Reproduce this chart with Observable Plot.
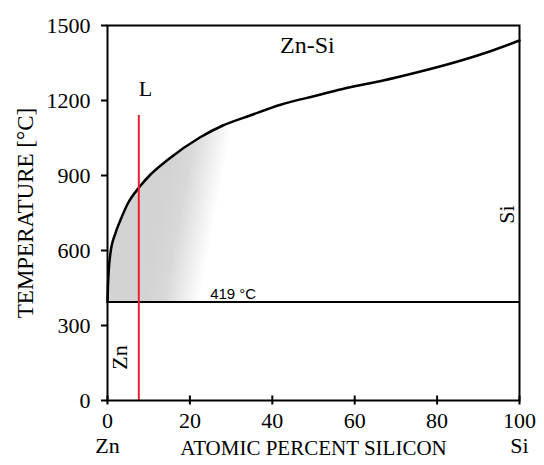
<!DOCTYPE html>
<html>
<head>
<meta charset="utf-8">
<script src="https://cdn.jsdelivr.net/npm/d3@7"></script>
<script src="https://cdn.jsdelivr.net/npm/@observablehq/plot@0.6"></script>
<style>
  html, body { margin: 0; padding: 0; background: #fff; }
</style>
</head>
<body>
<div id="chart"></div>
<script>
// Liquidus curve (atomic % Si, temperature °C)
const liqX = [0, 0.1, 0.3, 0.7, 1.9, 3.1, 5, 7.6, 10.5, 14.4, 22.5, 28, 34.6, 42, 50.8, 58, 66.9, 75, 83.1, 91.1, 100];
const liqT = [394, 450, 520, 588, 668, 720, 790, 851, 905, 960, 1053, 1100, 1140, 1183, 1220, 1250, 1280, 1312, 1347, 1387, 1440];
const eutecticT = 394;       // drawn line labelled 419 °C
const eutecticLabel = "419 °C";
const redX = 7.6;            // vertical red composition line
const redTop = 1140;
const xTicks = [0, 20, 40, 60, 80, 100];
const yTicks = [0, 300, 600, 900, 1200, 1500];

const liquidus = liqX.map((x, i) => ({x, T: liqT[i]}));

const serif = "Liberation Serif";

const plot = Plot.plot({
  width: 544,
  height: 465,
  marginLeft: 107,
  marginRight: 25,
  marginTop: 25,
  marginBottom: 65,
  style: {fontFamily: serif, fontSize: "22px", color: "black", background: "white"},
  x: {domain: [0, 100]},
  y: {domain: [0, 1500]},
  marks: [
    Plot.areaY(liquidus, {x: "x", y1: eutecticT, y2: "T", curve: "monotone-x", fill: "url(#shade)"}),
    Plot.ruleY([eutecticT], {x1: 0, x2: 100, stroke: "black", strokeWidth: 2}),
    Plot.line(liquidus, {x: "x", y: "T", curve: "monotone-x", stroke: "black", strokeWidth: 2.5}),
    Plot.ruleX([redX], {y1: 0, y2: redTop, stroke: "#e8232b", strokeWidth: 2}),
    Plot.frame({stroke: "black", strokeWidth: 2}),
    Plot.axisY({ticks: yTicks, tickFormat: d => String(d), tickSize: 6, tickPadding: 11, fontSize: 22, fontFamily: serif, label: null, strokeWidth: 2}),
    Plot.axisX({ticks: xTicks, tickFormat: d => String(d), tickSize: 0, tickPadding: 12, fontSize: 22, fontFamily: serif, label: null}),
    Plot.ruleX(xTicks, {x: d => d, y1: -18, y2: 18, stroke: "black", strokeWidth: 2, clip: false}),
    Plot.text(["TEMPERATURE [°C]"], {frameAnchor: "left", textAnchor: "middle", dx: -82, rotate: -90, fontSize: 23, fontFamily: serif}),
    Plot.text(["ATOMIC PERCENT SILICON"], {frameAnchor: "bottom", dy: 54, fontSize: 21, fontFamily: serif}),
    Plot.text(["Zn", "Si"], {x: [0, 100], frameAnchor: "bottom", dy: 52, fontSize: 22, fontFamily: serif}),
    Plot.text(["Zn-Si"], {x: [48.5], y: [1392], lineAnchor: "bottom", fontSize: 24, fontFamily: serif}),
    Plot.text(["L"], {x: [9.2], y: [1220], lineAnchor: "bottom", fontSize: 22, fontFamily: serif}),
    Plot.text(["Si"], {x: [96.9], y: [744], rotate: -90, fontSize: 22, fontFamily: serif}),
    Plot.text(["Zn"], {x: [3.1], y: [172], rotate: -90, fontSize: 22, fontFamily: serif}),
    Plot.text([eutecticLabel], {x: [30.5], y: [eutecticT], dy: -3, lineAnchor: "bottom", fontSize: 15, fontFamily: "Liberation Sans"})
  ]
});

// gradient shading under the liquidus
const X = plot.scale("x"), Y = plot.scale("y");
const gx0 = X.apply(9), gy0 = Y.apply(eutecticT);
const svg = d3.select(plot);
const defs = svg.insert("defs", ":first-child");
const g = defs.append("linearGradient")
  .attr("id", "shade")
  .attr("gradientUnits", "userSpaceOnUse")
  .attr("x1", gx0).attr("y1", gy0)
  .attr("x2", gx0 + 54).attr("y2", gy0 + 10);
g.append("stop").attr("offset", 0).attr("stop-color", "#d3d3d3");
g.append("stop").attr("offset", 0.35).attr("stop-color", "#d8d8d8");
g.append("stop").attr("offset", 1).attr("stop-color", "#ffffff");

document.getElementById("chart").appendChild(plot);
</script>
</body>
</html>
